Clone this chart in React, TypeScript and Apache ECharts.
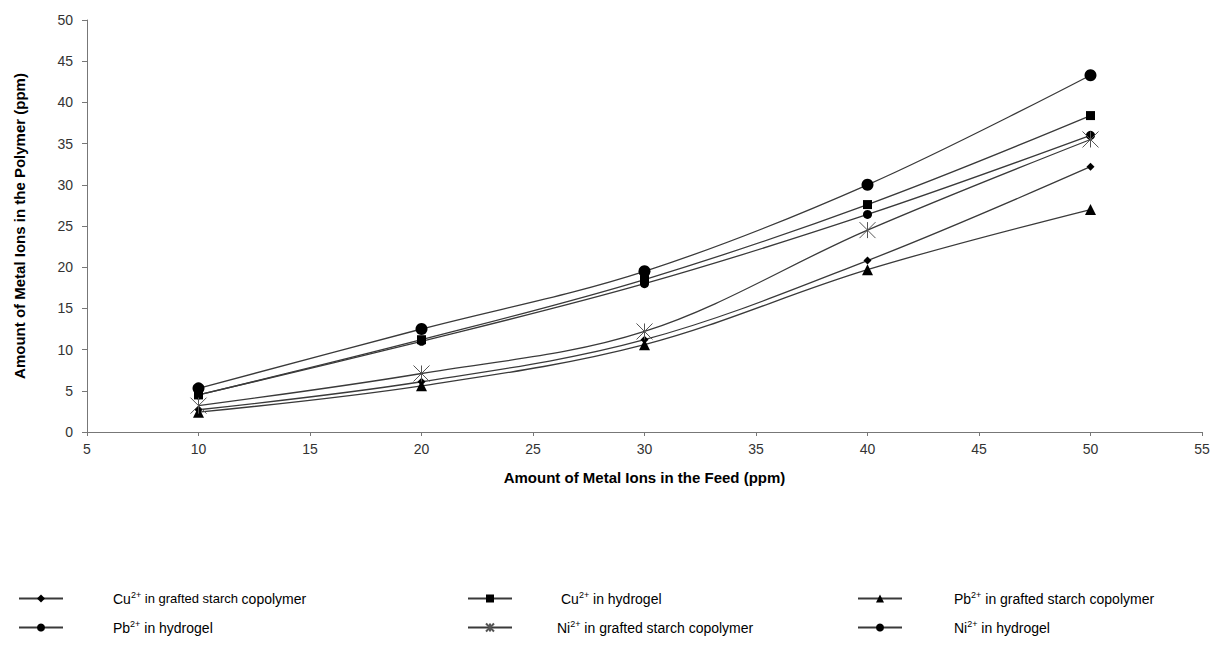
import React, { useEffect, useRef } from "react";
import * as echarts from "echarts";

const feed = [10, 20, 30, 40, 50];
const cuGrafted = [2.7, 6.1, 11.2, 20.8, 32.2];
const cuHydrogel = [4.5, 11.2, 18.5, 27.6, 38.4];
const pbGrafted = [2.4, 5.6, 10.6, 19.7, 27.0];
const pbHydrogel = [4.5, 11.0, 18.0, 26.4, 36.0];
const niGrafted = [3.2, 7.1, 12.2, 24.5, 35.5];
const niHydrogel = [5.3, 12.5, 19.5, 30.0, 43.3];

const names = [
  "Cu grafted",
  "Cu hydrogel",
  "Pb grafted",
  "Pb hydrogel",
  "Ni grafted",
  "Ni hydrogel",
];
const legendTexts = [
  "{a|Cu}{sup|2+}{s| in grafted starch }{a|copolymer}",
  "{a|Cu}{sup|2+}{a| in hydrogel}",
  "{a|Pb}{sup|2+}{a| in grafted starch copolymer}",
  "{a|Pb}{sup|2+}{a| in hydrogel}",
  "{a|Ni}{sup|2+}{a| in grafted starch copolymer}",
  "{a|Ni}{sup|2+}{a| in hydrogel}",
];

const FONT = "'Liberation Sans', Arial, sans-serif";
const LINE = "#3a3a3a";
const STAR = "path://M0,0L10,10M0,10L10,0M5,0L5,10";

export default function App() {
  const ref = useRef<HTMLDivElement>(null);
  useEffect(() => {
    if (!ref.current) return;
    const chart = echarts.init(ref.current, undefined, { renderer: "svg" });
    const pairs = (ys: number[]) => feed.map((x, i) => [x, ys[i]]);
    const mk = (
      name: string,
      ys: number[],
      symbol: string,
      size: number,
      star = false
    ) => ({
      name,
      type: "line",
      data: pairs(ys),
      smooth: 0.35,
      symbol,
      symbolSize: size,
      showSymbol: true,
      lineStyle: { color: LINE, width: 1.3 },
      itemStyle: star
        ? { color: "#555", borderColor: "#555", borderWidth: 1 }
        : { color: "#000", borderWidth: 0 },
      emphasis: { disabled: true },
      z: 3,
    });
    const rich = {
      a: { fontSize: 14, fontFamily: FONT, color: "#000" },
      s: { fontSize: 13, fontFamily: FONT, color: "#000" },
      sup: {
        fontSize: 9,
        fontFamily: FONT,
        color: "#000",
        verticalAlign: "top",
        padding: [0, 0, 8, 0],
      },
    };
    const legendPos = [
      { left: 18, top: 590, pad: 45 },
      { left: 467, top: 590, pad: 44 },
      { left: 857, top: 590, pad: 47 },
      { left: 18, top: 619, pad: 45 },
      { left: 467, top: 619, pad: 40 },
      { left: 857, top: 619, pad: 47 },
    ];
    const legends = names.map((n, i) => ({
      show: true,
      data: [n],
      left: legendPos[i].left,
      top: legendPos[i].top,
      itemWidth: 44,
      itemHeight: 10,
      padding: 0,
      selectedMode: false,
      formatter: () => legendTexts[i],
      textStyle: {
        fontFamily: FONT,
        fontSize: 14,
        color: "#000",
        padding: [0, 0, 0, legendPos[i].pad],
        rich,
      },
    }));
    chart.setOption({
      animation: false,
      backgroundColor: "#fff",
      grid: { left: 87, right: 14, top: 20, bottom: 233, containLabel: false },
      legend: legends,
      xAxis: {
        type: "value",
        min: 5,
        max: 55,
        interval: 5,
        name: "Amount of Metal Ions in the Feed (ppm)",
        nameLocation: "middle",
        nameGap: 38,
        nameTextStyle: {
          fontFamily: FONT,
          fontSize: 15,
          fontWeight: "bold",
          color: "#000",
        },
        axisLine: { show: true, onZero: false, lineStyle: { color: "#777", width: 1 } },
        axisTick: { show: true, length: 4, lineStyle: { color: "#777" } },
        axisLabel: { fontFamily: FONT, fontSize: 14, color: "#333", margin: 10 },
        splitLine: { show: false },
      },
      yAxis: {
        type: "value",
        min: 0,
        max: 50,
        interval: 5,
        name: "Amount of Metal Ions in the Polymer (ppm)",
        nameLocation: "middle",
        nameGap: 60,
        nameTextStyle: {
          fontFamily: FONT,
          fontSize: 15,
          fontWeight: "bold",
          color: "#000",
        },
        axisLine: { show: true, lineStyle: { color: "#777", width: 1 } },
        axisTick: { show: true, length: 5, lineStyle: { color: "#777" } },
        axisLabel: { fontFamily: FONT, fontSize: 14, color: "#333", margin: 14 },
        splitLine: { show: false },
      },
      series: [
        mk(names[0], cuGrafted, "diamond", 8),
        mk(names[1], cuHydrogel, "rect", 9),
        mk(names[2], pbGrafted, "triangle", 11),
        mk(names[3], pbHydrogel, "circle", 9),
        mk(names[4], niGrafted, STAR, 16, true),
        mk(names[5], niHydrogel, "circle", 12),
      ],
    });
    return () => chart.dispose();
  }, []);
  return (
    <div
      ref={ref}
      style={{ position: "fixed", left: 0, top: 0, width: 1216, height: 665 }}
    />
  );
}
